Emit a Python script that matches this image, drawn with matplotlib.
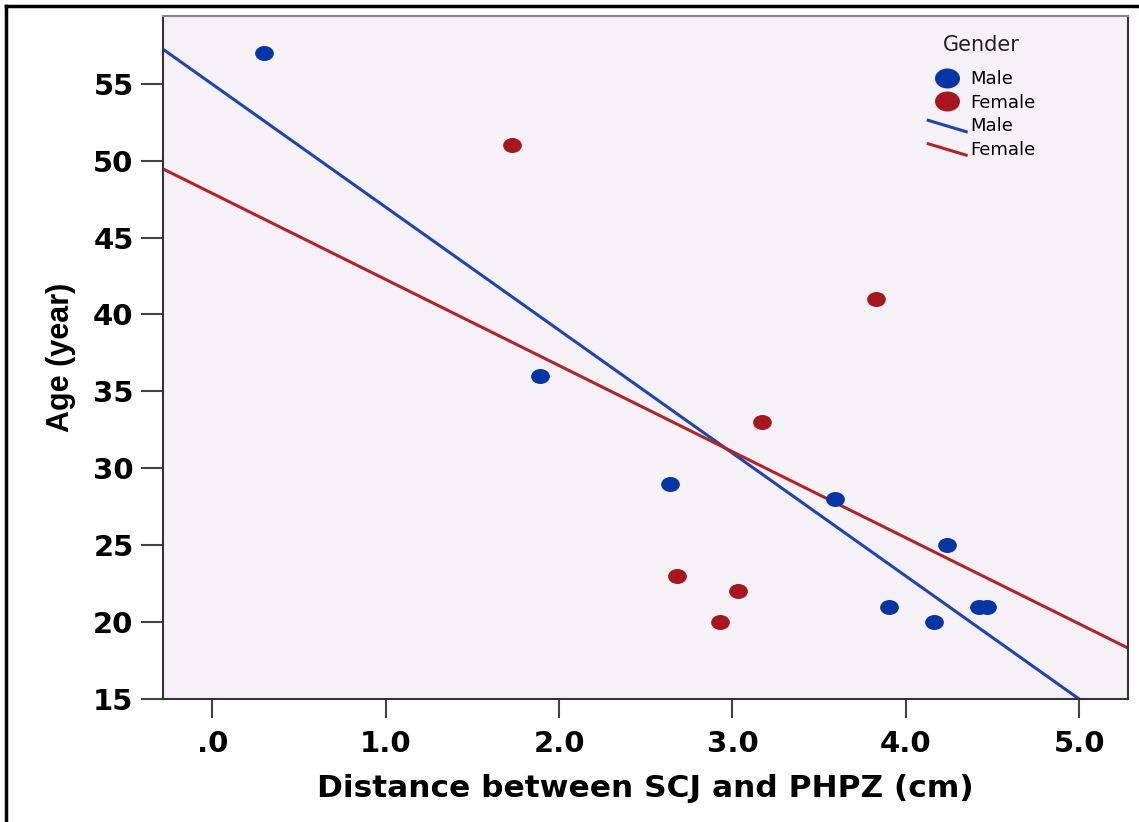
import numpy as np
import matplotlib.pyplot as plt
from matplotlib.path import Path
from matplotlib.lines import Line2D
from matplotlib.legend_handler import HandlerBase

# Data
male_dist = [0.30, 1.89, 2.64, 3.59, 3.90, 4.16, 4.24, 4.42, 4.47]
male_age = [57, 36, 29, 28, 21, 20, 25, 21, 21]
female_dist = [1.73, 3.83, 3.17, 2.68, 3.03, 2.93]
female_age = [51, 41, 33, 23, 22, 20]

xticks = [0, 1, 2, 3, 4, 5]
xtick_labels = ['.0', '1.0', '2.0', '3.0', '4.0', '5.0']
yticks = [15, 20, 25, 30, 35, 40, 45, 50, 55]

blue_pt, red_pt = '#0636A6', '#A8171F'
blue_ln, red_ln = '#1F45B5', '#B3232A'

# the original is stretched sideways, a wider face suits horizontal text
wide = ['DejaVu Sans']
narrow = ['Liberation Sans', 'DejaVu Sans']
plt.rcParams['font.family'] = narrow

# slightly wide ellipse marker, like the SPSS output
circ = Path.unit_circle()
ellipse = Path(circ.vertices * [1.25, 1.0], circ.codes)

fig = plt.figure(figsize=(11.39, 8.22), dpi=100)
ax = fig.add_axes([0.1429, 0.1496, 0.8474, 0.8309])
ax.set_facecolor('#F6F1F6')

xlim = (-0.286, 5.281)
ax.set_xlim(*xlim)
ax.set_ylim(15, 59.4)

# fit lines
xs = np.array(xlim)
mb = np.polyfit(male_dist, male_age, 1)
fb = np.polyfit(female_dist, female_age, 1)
ax.plot(xs, np.polyval(mb, xs), color=blue_ln, lw=2.2, zorder=2)
ax.plot(xs, np.polyval(fb, xs), color=red_ln, lw=2.2, zorder=2)

ax.plot(male_dist, male_age, ls='none', marker=ellipse, ms=13.5,
        color=blue_pt, mec='none', zorder=3)
ax.plot(female_dist, female_age, ls='none', marker=ellipse, ms=13.5,
        color=red_pt, mec='none', zorder=3)

ax.set_xticks(xticks)
ax.set_xticklabels(xtick_labels)
ax.set_yticks(yticks)
ax.tick_params(direction='out', length=16, width=1.5, color='#444444',
               labelsize=21, pad=5)
for lbl in ax.get_xticklabels() + ax.get_yticklabels():
    lbl.set_fontweight('bold')
    lbl.set_family(wide)
ax.tick_params(axis='x', length=14, pad=8)

for side in ['left', 'bottom', 'right']:
    ax.spines[side].set_color('#333333')
    ax.spines[side].set_linewidth(1.5)
ax.spines['top'].set_color('#888888')
ax.spines['top'].set_linewidth(1.5)

ax.set_xlabel('Distance between SCJ and PHPZ (cm)', fontsize=22.5,
              fontweight='bold', family=wide, labelpad=12)
ax.set_ylabel('Age (year)', fontsize=22, fontweight='bold', family=narrow,
              labelpad=12)


class DiagLine(HandlerBase):
    def create_artists(self, legend, orig_handle, xdescent, ydescent,
                       width, height, fontsize, trans):
        ln = Line2D([-xdescent, width - xdescent],
                    [height * 0.85 - ydescent, -ydescent - height * 0.05],
                    color=orig_handle.get_color(), lw=2.2, transform=trans)
        return [ln]


h_m = Line2D([], [], ls='none', marker=ellipse, ms=18, color=blue_pt, mec='none')
h_f = Line2D([], [], ls='none', marker=ellipse, ms=18, color=red_pt, mec='none')
l_m = Line2D([], [], color=blue_ln)
l_f = Line2D([], [], color=red_ln)
leg = ax.legend([h_m, h_f, l_m, l_f], ['Male', 'Female', 'Male', 'Female'],
                loc='upper left',
                bbox_to_anchor=(912 / 1139, 1 - 54 / 822),
                bbox_transform=fig.transFigure, frameon=False,
                prop={'family': wide, 'size': 13},
                handlelength=2.1, handletextpad=0.25, labelspacing=0.3,
                handler_map={l_m: DiagLine(), l_f: DiagLine()})
fig.text(981 / 1139, 1 - 45 / 822, 'Gender', family=wide, size=15,
         color='#222222', ha='center', va='center')

# outer frame (left and top edges only)
fig.add_artist(Line2D([6 / 1139, 6 / 1139], [0, 1 - 6 / 822], color='black',
                      lw=2.5, transform=fig.transFigure))
fig.add_artist(Line2D([6 / 1139, 1], [1 - 6 / 822, 1 - 6 / 822], color='black',
                      lw=2.5, transform=fig.transFigure))

fig.savefig('out.png', dpi=100)
